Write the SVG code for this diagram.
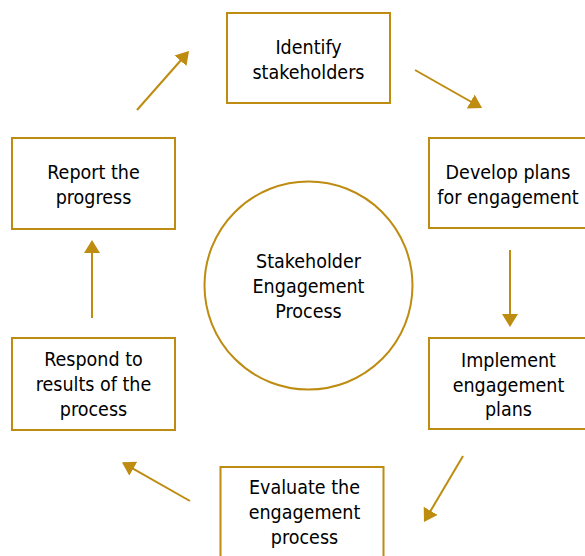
<svg xmlns="http://www.w3.org/2000/svg" width="585" height="556" viewBox="0 0 585 556">
  <style>
    .box { fill: #ffffff; stroke: #BD8C10; stroke-width: 2; }
    .lbl { font-family: "DejaVu Sans Condensed", "Liberation Sans", sans-serif; font-stretch: condensed; font-size: 19.5px; fill: #000000; text-anchor: middle; }
    .link { stroke: #BD8C10; stroke-width: 2; fill: none; marker-end: url(#head); }
  </style>
  <defs>
    <marker id="head" markerUnits="userSpaceOnUse" markerWidth="16" markerHeight="18" refX="11" refY="8" orient="auto" viewBox="0 0 16 18">
      <path d="M0,0 L13,8 L0,16 z" fill="#BD8C10"/>
    </marker>
  </defs>
  <rect width="585" height="556" fill="#ffffff"/>

  <!-- cycle arrows -->
  <g id="connectors">
    <line class="link" x1="415" y1="70" x2="480.3" y2="107"/>
    <line class="link" x1="510" y1="250" x2="510" y2="325"/>
    <line class="link" x1="463" y1="456" x2="425" y2="520.3"/>
    <line class="link" x1="190" y1="501" x2="123.7" y2="463.3"/>
    <line class="link" x1="92" y1="318" x2="92" y2="242"/>
    <line class="link" x1="137" y1="110" x2="187.7" y2="52.5"/>
  </g>

  <g id="center">
    <circle class="box" cx="308.5" cy="285.5" r="104"/>
    <text class="lbl" x="308.5" y="268">Stakeholder</text>
    <text class="lbl" x="308.5" y="293">Engagement</text>
    <text class="lbl" x="308.5" y="318">Process</text>
  </g>

  <g id="identify">
    <rect class="box" x="227" y="13" width="163" height="90"/>
    <text class="lbl" x="308.5" y="54">Identify</text>
    <text class="lbl" x="308.5" y="79">stakeholders</text>
  </g>

  <g id="develop">
    <rect class="box" x="429" y="138" width="160" height="90"/>
    <text class="lbl" x="508" y="179">Develop plans</text>
    <text class="lbl" x="508" y="204">for engagement</text>
  </g>

  <g id="implement">
    <rect class="box" x="429" y="338" width="160" height="91"/>
    <text class="lbl" x="508.5" y="367">Implement</text>
    <text class="lbl" x="508.5" y="392">engagement</text>
    <text class="lbl" x="508.5" y="416">plans</text>
  </g>

  <g id="evaluate">
    <rect class="box" x="220.5" y="467" width="163" height="95"/>
    <text class="lbl" x="304.5" y="494">Evaluate the</text>
    <text class="lbl" x="304.5" y="519">engagement</text>
    <text class="lbl" x="304.5" y="544">process</text>
  </g>

  <g id="respond">
    <rect class="box" x="12" y="338" width="163" height="92"/>
    <text class="lbl" x="93.5" y="366">Respond to</text>
    <text class="lbl" x="93.5" y="391">results of the</text>
    <text class="lbl" x="93.5" y="416">process</text>
  </g>

  <g id="report">
    <rect class="box" x="12" y="138" width="163" height="91"/>
    <text class="lbl" x="93.5" y="179">Report the</text>
    <text class="lbl" x="93.5" y="204">progress</text>
  </g>
</svg>
